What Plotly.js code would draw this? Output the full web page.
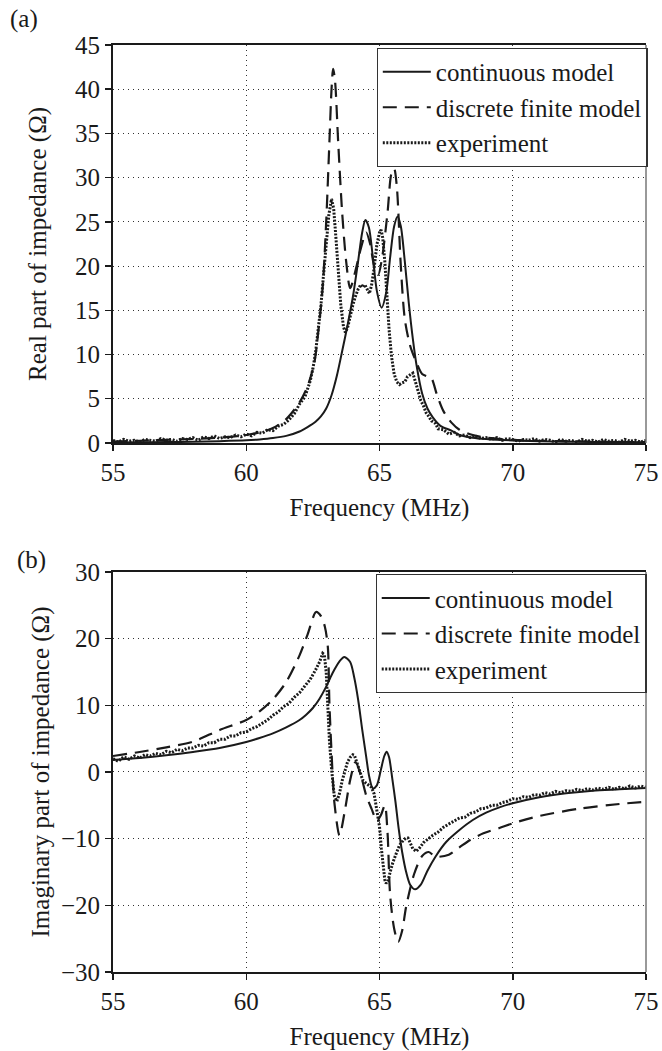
<!DOCTYPE html>
<html>
<head>
<meta charset="utf-8">
<script src="https://cdn.plot.ly/plotly-3.0.1.min.js"></script>
<style>html,body{margin:0;padding:0;background:#fff;font-family:"Liberation Serif","DejaVu Serif",serif;}#chart{width:662px;height:1051px;}</style>
</head>
<body>
<div id="chart"></div>
<script>
// ---------- (a) Real part of impedance ----------
const contRealF = [55,56,57,58,59,60,60.5,61,61.5,62,62.3,62.6,62.8,63.0,63.2,63.4,63.6,63.8,64.0,64.2,64.35,64.47,64.6,64.75,64.9,65.08,65.25,65.4,65.55,65.68,65.8,65.95,66.1,66.25,66.4,66.6,66.8,67.0,67.3,67.7,68.0,68.5,69,70,71,72,73,74,75];
const contRealV = [0.05,0.07,0.1,0.13,0.2,0.3,0.4,0.55,0.8,1.3,1.8,2.4,3.0,3.9,5.4,7.6,10.4,13.3,16.5,20.6,23.8,25.2,24.4,21,17.2,15.3,17,21,24.5,25.6,24.5,20.5,15.8,11.8,8.6,5.6,3.9,2.9,1.9,1.4,0.9,0.6,0.45,0.28,0.2,0.15,0.12,0.1,0.08];

const discRealF = [55,56,57,58,59,60,60.5,61,61.5,62,62.3,62.55,62.7,62.87,63.0,63.12,63.2,63.26,63.33,63.45,63.6,63.75,63.9,64.1,64.3,64.5,64.65,64.8,64.95,65.1,65.3,65.45,65.55,65.65,65.8,65.95,66.15,66.4,66.6,66.8,66.95,67.15,67.4,67.7,68,68.5,69,70,71,72,73,74,75];
const discRealV = [0.15,0.25,0.35,0.45,0.6,0.9,1.2,1.7,2.7,4.6,6.4,9.0,12.5,17.7,25,34,40,42.3,41,34,26,20.5,17.5,19.5,22,23.8,22.5,20,19,21,26,30.5,31,29,20,14,11,9.0,7.8,7.5,7.3,5.5,3.6,2.3,1.5,0.9,0.6,0.35,0.25,0.2,0.15,0.12,0.1];

const expRealF = [55.0,55.2,55.4,55.6,55.8,56.0,56.2,56.4,56.6,56.8,57.0,57.2,57.4,57.6,57.8,58.0,58.2,58.4,58.6,58.8,59.0,59.2,59.4,59.6,59.8,60.0,60.2,60.4,60.6,60.8,61.0,61.2,61.4,61.6,61.8,62.0,62.2,62.4,62.5,62.6,62.7,62.8,62.9,63.0,63.1,63.2,63.28,63.35,63.45,63.55,63.65,63.72,63.8,63.9,64.0,64.1,64.2,64.3,64.38,64.45,64.55,64.62,64.7,64.8,64.9,65.0,65.06,65.12,65.2,65.28,65.36,65.45,65.55,65.65,65.75,65.85,65.95,66.05,66.15,66.25,66.35,66.45,66.55,66.65,66.75,66.85,66.95,67.1,67.2,67.4,67.6,67.8,68.0,68.2,68.4,68.6,68.8,69.0,69.2,69.4,69.6,69.8,70.0,70.2,70.4,70.6,70.8,71.0,71.2,71.4,71.6,71.8,72.0,72.2,72.4,72.6,72.8,73.0,73.2,73.4,73.6,73.8,74.0,74.2,74.4,74.6,74.8,75.0];
const expRealV = [0.3,0.1,0.4,0.2,0.3,0.1,0.4,0.3,0.2,0.5,0.3,0.4,0.2,0.5,0.4,0.6,0.3,0.7,0.5,0.8,0.5,0.7,0.6,0.9,0.7,1.0,0.8,1.2,1.1,1.5,1.4,1.9,2.1,2.6,3.3,4.4,5.2,7.0,8.4,10.2,12.6,15.5,19.0,22.6,25.8,27.6,26.5,23.8,19.5,15.5,13.1,12.5,13.0,14.4,15.6,16.6,17.4,17.9,17.6,17.9,17.2,16.9,17.8,19.8,22.4,23.8,24.1,23.2,20.5,16.5,12.8,9.8,7.8,6.9,6.6,6.8,6.9,7.5,7.7,7.9,6.9,5.9,4.8,4.2,3.4,3.0,2.5,2.2,1.6,1.5,1.0,1.2,0.8,0.9,0.6,0.8,0.5,0.6,0.4,0.6,0.3,0.5,0.4,0.2,0.4,0.3,0.5,0.2,0.4,0.3,0.1,0.4,0.2,0.3,0.1,0.4,0.2,0.3,0.1,0.4,0.2,0.3,0.1,0.4,0.2,0.3,0.1,0.3];

// ---------- (b) Imaginary part of impedance ----------
const contImagF = [55,56,57,58,59,60,60.5,61,61.5,62,62.25,62.5,62.75,63,63.15,63.3,63.5,63.68,63.9,64.05,64.2,64.35,64.5,64.62,64.75,64.9,65.05,65.18,65.27,65.36,65.48,65.6,65.72,65.85,66.0,66.15,66.34,66.55,66.8,67.1,67.5,68,68.5,69,69.5,70,71,72,73,74,75];
const contImagV = [1.8,2.1,2.5,3.0,3.6,4.5,5.1,5.8,6.7,7.8,8.6,9.6,11.0,12.8,14.1,15.3,16.6,17.25,16.5,14.2,10.8,6.4,2.3,-0.8,-2.45,-2.0,0.3,2.4,3.05,2.2,-1.0,-4.5,-8.5,-12,-15,-16.9,-17.6,-16.9,-14.8,-12.7,-10.5,-8.7,-7.2,-6.1,-5.3,-4.7,-3.8,-3.2,-2.8,-2.6,-2.4];

const discImagF = [55,56,57,58,59,60,60.5,61,61.5,62,62.3,62.62,62.8,62.95,63.06,63.12,63.2,63.31,63.5,63.7,63.9,64.1,64.3,64.5,64.7,64.9,65.05,65.2,65.3,65.4,65.55,65.7,65.85,66.0,66.3,66.6,66.85,67.1,67.6,68,68.4,68.9,69.5,70,71,72.5,74,75];
const discImagV = [2.4,3.0,3.7,4.55,6.3,7.8,9.1,10.9,13.5,17.5,20.6,24.0,23.4,21.8,18.8,10.3,3,-4.7,-9.5,-5.8,-1.2,1.5,-0.5,-3.5,-5.5,-7.3,-6.5,-5,-9,-18.5,-23.5,-25.5,-23.8,-20.2,-15.3,-12.6,-12.0,-12.7,-12.4,-11.3,-10.2,-9.2,-8.4,-7.7,-6.6,-5.5,-4.8,-4.45];

const expImagF = [55.0,55.2,55.4,55.6,55.8,56.0,56.2,56.4,56.6,56.8,57.0,57.2,57.4,57.6,57.8,58.0,58.2,58.4,58.6,58.8,59.0,59.2,59.4,59.6,59.8,60.0,60.2,60.4,60.6,60.8,61.0,61.2,61.4,61.6,61.8,62.0,62.2,62.4,62.6,62.75,62.87,62.93,63.0,63.06,63.12,63.2,63.3,63.4,63.5,63.6,63.7,63.8,63.9,64.0,64.06,64.15,64.25,64.37,64.5,64.6,64.7,64.8,64.9,65.0,65.07,65.13,65.2,65.25,65.32,65.4,65.5,65.63,65.75,65.9,66.0,66.07,66.15,66.25,66.38,66.5,66.65,66.8,67.0,67.2,67.4,67.6,67.8,68.0,68.2,68.4,68.6,68.8,69.0,69.2,69.4,69.6,69.8,70.0,70.2,70.4,70.6,70.8,71.0,71.2,71.4,71.6,71.8,72.0,72.2,72.4,72.6,72.8,73.0,73.2,73.4,73.6,73.8,74.0,74.2,74.4,74.6,74.8,75.0];
const expImagV = [2.0,1.6,2.3,1.9,2.4,2.1,2.6,2.4,2.8,2.6,3.1,2.9,3.4,3.2,3.6,3.6,4.0,3.9,4.4,4.4,4.9,4.9,5.4,5.4,5.9,6.0,6.5,6.8,7.3,7.8,8.5,9.0,9.8,10.3,11.2,11.9,12.9,13.9,15.3,16.5,17.8,17.6,15.0,10.0,4.8,0.5,-3.5,-4.4,-3.2,-1.3,0.3,1.5,2.2,2.6,2.5,1.5,0.1,-1.2,-1.7,-2.0,-2.3,-3.3,-5.5,-8.2,-11.5,-14.2,-16.2,-16.7,-16.3,-15.0,-13.6,-12.2,-11.0,-10.2,-9.9,-9.9,-10.6,-11.5,-11.9,-11.4,-10.6,-10.1,-9.5,-9.0,-8.3,-7.8,-7.4,-6.9,-6.8,-6.2,-6.0,-5.5,-5.4,-5.0,-5.0,-4.6,-4.4,-4.0,-4.1,-3.7,-3.8,-3.4,-3.5,-3.1,-3.3,-2.9,-3.1,-2.8,-2.9,-2.6,-2.8,-2.5,-2.7,-2.4,-2.6,-2.3,-2.6,-2.3,-2.5,-2.1,-2.4,-2.1,-2.3];

const seriesNames = ['continuous model', 'discrete finite model', 'experiment'];
const xTicks = [55, 60, 65, 70, 75];

const FONT = '"Liberation Serif", "DejaVu Serif", serif';
const INK = '#1a1a1a';
const solidLine = {color: INK, width: 2, shape: 'spline', smoothing: 0.8};
const dashLine = {color: INK, width: 2.2, dash: '14px,8px', shape: 'spline', smoothing: 0.8};
const dotLine = {color: INK, width: 3, dash: '2px,1.5px'};

const traces = [
  {x: contRealF, y: contRealV, xaxis: 'x', yaxis: 'y', mode: 'lines', name: seriesNames[0], line: solidLine, legend: 'legend'},
  {x: discRealF, y: discRealV, xaxis: 'x', yaxis: 'y', mode: 'lines', name: seriesNames[1], line: dashLine, legend: 'legend'},
  {x: expRealF, y: expRealV, xaxis: 'x', yaxis: 'y', mode: 'lines', name: seriesNames[2], line: dotLine, legend: 'legend'},
  {x: contImagF, y: contImagV, xaxis: 'x2', yaxis: 'y2', mode: 'lines', name: seriesNames[0], line: solidLine, legend: 'legend2'},
  {x: discImagF, y: discImagV, xaxis: 'x2', yaxis: 'y2', mode: 'lines', name: seriesNames[1], line: dashLine, legend: 'legend2'},
  {x: expImagF, y: expImagV, xaxis: 'x2', yaxis: 'y2', mode: 'lines', name: seriesNames[2], line: dotLine, legend: 'legend2'}
];

const xCommon = {
  range: [55, 75], tickvals: xTicks, ticks: 'outside', ticklen: 6, tickwidth: 1.5, tickcolor: INK,
  showline: true, linecolor: INK, linewidth: 2, mirror: true,
  showgrid: true, gridcolor: '#333', gridwidth: 1, griddash: '1px,4px', zeroline: false,
  tickfont: {family: FONT, size: 25, color: INK},
  title: {text: 'Frequency (MHz)', font: {family: FONT, size: 25, color: INK}, standoff: 14}
};
const yCommon = {
  ticks: 'outside', ticklen: 6, tickwidth: 1.5, tickcolor: INK,
  showline: true, linecolor: INK, linewidth: 2, mirror: false,
  showgrid: true, gridcolor: '#333', gridwidth: 1, griddash: '1px,4px', zeroline: false,
  tickfont: {family: FONT, size: 25, color: INK}
};

const legendCommon = {
  xanchor: 'right', yanchor: 'top', bgcolor: 'white', bordercolor: '#333', borderwidth: 1.2,
  font: {family: FONT, size: 25, color: INK}, itemwidth: 48, tracegroupgap: 0
};

const layout = {
  width: 662, height: 1051,
  margin: {l: 113, r: 16, t: 45, b: 79},
  paper_bgcolor: 'white', plot_bgcolor: 'white',
  font: {family: FONT, size: 25, color: INK},
  xaxis: Object.assign({}, xCommon, {anchor: 'y'}),
  yaxis: Object.assign({}, yCommon, {anchor: 'x', domain: [0.5707, 1], range: [0, 45], dtick: 5,
    title: {text: 'Real part of impedance (Ω)', font: {family: FONT, size: 25, color: INK}, standoff: 21}}),
  xaxis2: Object.assign({}, xCommon, {anchor: 'y2'}),
  yaxis2: Object.assign({}, yCommon, {anchor: 'x2', domain: [0, 0.4315], range: [-30, 30], dtick: 10,
    title: {text: 'Imaginary part of impedance (Ω)', font: {family: FONT, size: 25, color: INK}, standoff: 4}}),
  legend: Object.assign({}, legendCommon, {x: 1.003, y: 0.997}),
  legend2: Object.assign({}, legendCommon, {x: 1.001, y: 0.4293}),
  shapes: [
    {type: 'line', xref: 'x domain', yref: 'y domain', x0: 1, x1: 1, y0: 0, y1: 1, line: {color: '#777', width: 1.5}},
    {type: 'line', xref: 'x2 domain', yref: 'y2 domain', x0: 1, x1: 1, y0: 0, y1: 1, line: {color: '#777', width: 1.5}}
  ],
  annotations: [
    {text: '(a)', xref: 'paper', yref: 'paper', x: -0.197, y: 1.045, xanchor: 'left', yanchor: 'top', showarrow: false, font: {family: FONT, size: 25, color: INK}},
    {text: '(b)', xref: 'paper', yref: 'paper', x: -0.184, y: 0.462, xanchor: 'left', yanchor: 'top', showarrow: false, font: {family: FONT, size: 25, color: INK}}
  ]
};

Plotly.newPlot('chart', traces, layout, {displayModeBar: false, staticPlot: true});
</script>
</body>
</html>
